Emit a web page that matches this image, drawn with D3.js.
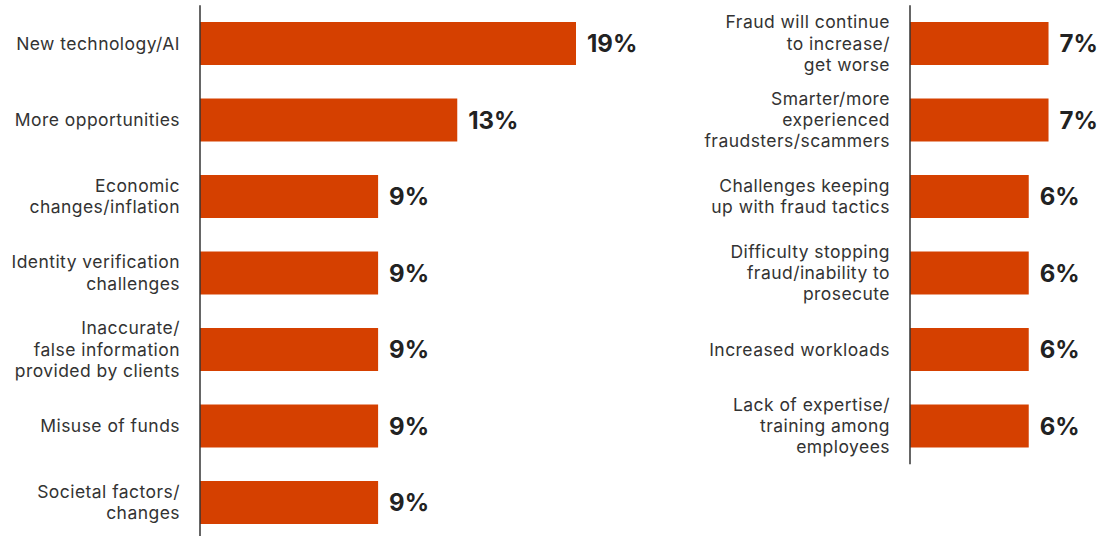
<!DOCTYPE html>
<html>
<head>
<meta charset="utf-8">
<script src="https://cdn.jsdelivr.net/npm/d3@7"></script>
<style>
  html, body { margin: 0; padding: 0; background: #ffffff; }
  svg { display: block; }
  .cat { font-family: Inter, "Noto Sans", sans-serif; font-size: 17.5px; letter-spacing: 0.45px; fill: #333333; }
  .val { font-family: Inter, "Noto Sans", sans-serif; font-size: 24px; font-weight: 700; fill: #222222; }
</style>
</head>
<body>
<script>
// Left column: categories (label lines) and shares in percent
const leftCategories = [
  ["New technology/AI"],
  ["More opportunities"],
  ["Economic", "changes/inflation"],
  ["Identity verification", "challenges"],
  ["Inaccurate/", "false information", "provided by clients"],
  ["Misuse of funds"],
  ["Societal factors/", "changes"]
];
const leftValues = [19, 13, 9, 9, 9, 9, 9];

// Right column
const rightCategories = [
  ["Fraud will continue", "to increase/", "get worse"],
  ["Smarter/more", "experienced", "fraudsters/scammers"],
  ["Challenges keeping", "up with fraud tactics"],
  ["Difficulty stopping", "fraud/inability to", "prosecute"],
  ["Increased workloads"],
  ["Lack of expertise/", "training among", "employees"]
];
const rightValues = [7, 7, 6, 6, 6, 6];

const width = 1113, height = 536;
const barColor = "#d54000";
const rowStep = 76.5;
const lineHeight = 21.3;

const svg = d3.select("body").append("svg")
  .attr("width", width)
  .attr("height", height);

// Shared value scale so both columns are comparable
const x = d3.scaleLinear().domain([0, 19]).range([0, 376]);

function drawPanel(cats, vals, originX, originY) {
  const ids = cats.map((d, i) => i);
  const y = d3.scaleBand()
    .domain(ids)
    .range([0, ids.length * rowStep])
    .paddingInner(0.438)
    .paddingOuter(0.219);

  const g = svg.append("g").attr("transform", `translate(${originX},${originY})`);

  g.selectAll("rect.bar")
    .data(vals)
    .join("rect")
    .attr("class", "bar")
    .attr("x", x(0))
    .attr("y", (d, i) => y(i))
    .attr("width", d => x(d) - x(0))
    .attr("height", y.bandwidth())
    .attr("fill", barColor);

  // vertical baseline
  g.append("line")
    .attr("x1", x(0)).attr("x2", x(0))
    .attr("y1", y.range()[0]).attr("y2", y.range()[1])
    .attr("stroke", "#333333")
    .attr("stroke-width", 1.5);

  // category labels, right-aligned and vertically centred on each bar
  const labels = g.selectAll("text.cat")
    .data(cats)
    .join("text")
    .attr("class", "cat")
    .attr("text-anchor", "end")
    .attr("x", x(0) - 20)
    .attr("y", (d, i) => y(i) + y.bandwidth() / 2);

  labels.each(function(lines) {
    const t = d3.select(this);
    const y0 = +t.attr("y");
    const first = y0 - (lines.length - 1) * lineHeight / 2;
    lines.forEach((line, k) => {
      t.append("tspan")
        .attr("x", x(0) - 20)
        .attr("y", first + k * lineHeight)
        .attr("dy", "0.35em")
        .text(line);
    });
  });

  // value labels
  g.selectAll("text.val")
    .data(vals)
    .join("text")
    .attr("class", "val")
    .attr("x", d => x(d) + 11)
    .attr("y", (d, i) => y(i) + y.bandwidth() / 2)
    .attr("dy", "0.36em")
    .text(d => d + "%");
}

drawPanel(leftCategories, leftValues, 200, 5.25);
drawPanel(rightCategories, rightValues, 910, 5.25);
</script>
</body>
</html>
